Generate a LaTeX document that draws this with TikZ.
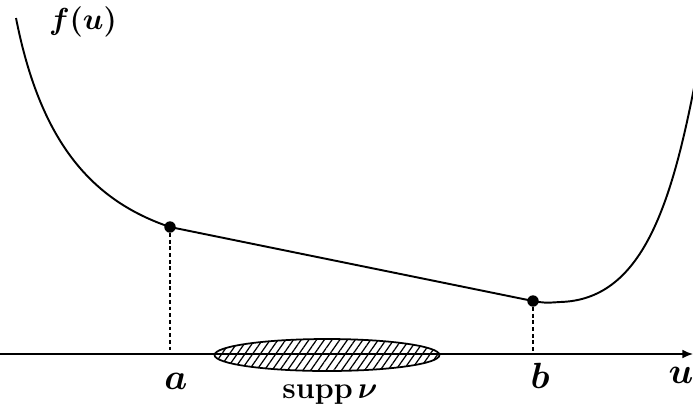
\documentclass[tikz,border=0pt]{standalone}
\usepackage{amsmath,amssymb}
\usepackage{bm}
\usepackage{tikz}
\usetikzlibrary{arrows.meta,positioning,calc,shapes.geometric,patterns.meta}

\tikzset{
  dotpt/.style={circle, fill=black, inner sep=0pt, minimum size=6.5pt},
  curveline/.style={line width=1.1pt},
  dropline/.style={line width=0.9pt, dash pattern=on 2.2pt off 1.6pt},
  axislabel/.style={font=\huge}
}

\begin{document}
\begin{tikzpicture}[x=0.02cm, y=-0.02cm]
      \useasboundingbox (0,0) rectangle (693,417);
      % Support of nu
      \node[ellipse, draw, line width=1pt, fill=white,
            postaction={pattern={Lines[angle=55,distance=3.6pt,line width=0.7pt]}},
            minimum width=4.5cm, minimum height=0.64cm, inner sep=0pt]
        (supp) at (327,355) {};
      \node[font=\fontsize{16}{18}\selectfont] (lsupp) at (330,395)
        {$\mathbf{supp}\,\bm{\nu}$};
      % Axis
      \coordinate (left) at (0,354);
      \coordinate (right) at (693,354);
      \draw[line width=0.9pt, -{Latex[length=6pt,width=5pt]}] (left) -- (right);
      \node[axislabel] (lu) at (681,375) {$\bm{u}$};
      % Points a and b
      \node[dotpt] (pa) at (170,227) {};
      \node[dotpt] (pb) at (533,301) {};
      \coordinate (ax) at (170,354);
      \coordinate (bx) at (533,354);
      \draw[dropline] (pa) -- (ax);
      \draw[dropline] (pb) -- (bx);
      \node[axislabel] (la) at (176,381) {$\bm{a}$};
      \node[axislabel] (lb) at (540,376) {$\bm{b}$};
      % The function
      \coordinate (ftop) at (16,18);
      \coordinate (fflat) at (560,302);
      \coordinate (fend) at (694,88);
      \draw[curveline] (ftop) .. controls (40,140) and (90,200) .. (pa.center);
      \draw[curveline] (pa.center) -- (pb.center);
      \draw[curveline] (pb.center) .. controls (545,303) .. (fflat)
        .. controls (640,300) and (670,210) .. (fend);
      \node[font=\LARGE] (lf) at (83,22) {$\bm{f(u)}$};
    \end{tikzpicture}
\end{document}
